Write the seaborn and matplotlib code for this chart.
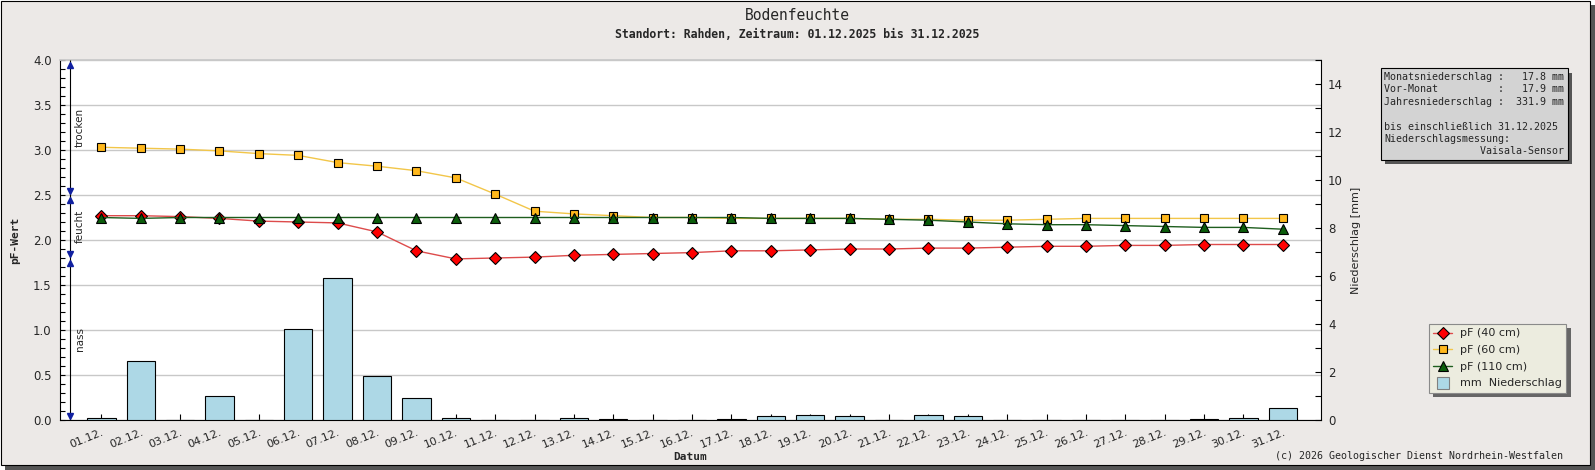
import numpy as np
import pandas as pd
import seaborn as sns
import matplotlib.pyplot as plt
import matplotlib.patheffects as pe
from matplotlib.patches import Rectangle
from matplotlib.lines import Line2D
from matplotlib.ticker import MultipleLocator, FormatStrFormatter

# Daten
datum = ['01.12.', '02.12.', '03.12.', '04.12.', '05.12.', '06.12.', '07.12.', '08.12.',
         '09.12.', '10.12.', '11.12.', '12.12.', '13.12.', '14.12.', '15.12.', '16.12.',
         '17.12.', '18.12.', '19.12.', '20.12.', '21.12.', '22.12.', '23.12.', '24.12.',
         '25.12.', '26.12.', '27.12.', '28.12.', '29.12.', '30.12.', '31.12.']

pf_40 = [2.27, 2.27, 2.26, 2.24, 2.21, 2.20, 2.19, 2.09, 1.88, 1.79, 1.80,
         1.81, 1.83, 1.84, 1.85, 1.86, 1.88, 1.88, 1.89, 1.90, 1.90,
         1.91, 1.91, 1.92, 1.93, 1.93, 1.94, 1.94, 1.95, 1.95, 1.95]

pf_60 = [3.03, 3.02, 3.01, 2.99, 2.96, 2.94, 2.86, 2.82, 2.77, 2.69, 2.51,
         2.32, 2.29, 2.27, 2.25, 2.25, 2.24, 2.24, 2.24, 2.24, 2.23,
         2.23, 2.22, 2.22, 2.23, 2.24, 2.24, 2.24, 2.24, 2.24, 2.24]

pf_110 = [2.25, 2.24, 2.25, 2.25, 2.25, 2.25, 2.25, 2.25, 2.25, 2.25, 2.25,
          2.25, 2.25, 2.25, 2.25, 2.25, 2.25, 2.24, 2.24, 2.24, 2.23,
          2.22, 2.20, 2.18, 2.17, 2.17, 2.16, 2.15, 2.14, 2.14, 2.12]

niederschlag = [0.1, 2.45, 0.0, 1.0, 0.0, 3.8, 5.9, 1.85, 0.9, 0.1,
                0.0, 0.0, 0.1, 0.05, 0.0, 0.0, 0.05, 0.15, 0.2, 0.15,
                0.0, 0.2, 0.15, 0.0, 0.0, 0.0, 0.0, 0.0, 0.05, 0.1, 0.5]

zonen = ['nass', 'feucht', 'trocken']
zonen_grenzen = [0.0, 1.8, 2.5, 4.0]

vor_monat = 17.9
jahresniederschlag = 331.9
bis_datum = '31.12.2025'

sns.set_theme(style='white')
plt.rcParams['font.family'] = ['DejaVu Sans']
MONO = 'DejaVu Sans Mono'

df = pd.DataFrame({'Datum': datum, 'tag': np.arange(len(datum)),
                   'pF40': pf_40, 'pF60': pf_60, 'pF110': pf_110, 'mm': niederschlag})

W, H = 1595, 470
fig = plt.figure(figsize=(W / 100, H / 100), dpi=100, facecolor='white')

# Rahmen mit Schatten
fig.patches.append(Rectangle((5 / W, 0), 1590 / W, 465 / H, transform=fig.transFigure,
                             fc='#555555', ec='none', zorder=-20))
fig.patches.append(Rectangle((0.5 / W, 5.5 / H), 1589 / W, 464 / H, transform=fig.transFigure,
                             fc='#ece9e7', ec='black', lw=0.8, zorder=-10))

ax = fig.add_axes([60 / W, 50 / H, 1261 / W, 360 / H])
ax.set_facecolor('white')
ax_bar = ax.twinx()
ax_lines = ax.twinx()

# Niederschlag als Balken (rechte Achse)
sns.barplot(data=df, x='tag', y='mm', ax=ax_bar, native_scale=True, color='#add8e6',
            saturation=1, edgecolor='black', linewidth=0.8, width=0.72)

# pF-Kurven
sns.lineplot(data=df, x='tag', y='pF60', ax=ax_lines, color='#f2c649', lw=1, marker='s',
             markersize=6, markerfacecolor='#ffb81c', markeredgecolor='black', markeredgewidth=0.8)
sns.lineplot(data=df, x='tag', y='pF40', ax=ax_lines, color='#dd4b4b', lw=1, marker='D',
             markersize=6, markerfacecolor='#ff0000', markeredgecolor='black', markeredgewidth=0.8)
sns.lineplot(data=df, x='tag', y='pF110', ax=ax_lines, color='#1e5e1e', lw=1, marker='^',
             markersize=7, markerfacecolor='#0b5d0b', markeredgecolor='black', markeredgewidth=0.8)

# x-Achse
ax.set_xlim(-1.05, 30.97)
ax.set_xticks(df['tag'], datum, rotation=22, ha='right', rotation_mode='anchor', fontsize=8)
ax.tick_params(axis='x', direction='in', length=4, width=0.8, pad=5, color='black', bottom=True)
ax.set_xlabel('Datum', family=MONO, fontweight='bold', fontsize=8)
ax.xaxis.set_label_coords(0.5, -0.088)

# linke Achse
ax.set_ylim(0, 4)
ax.yaxis.set_major_locator(MultipleLocator(0.5))
ax.yaxis.set_minor_locator(MultipleLocator(0.1))
ax.yaxis.set_major_formatter(FormatStrFormatter('%.1f'))
ax.tick_params(axis='y', which='both', direction='in', length=3.5, width=0.8, labelsize=8.5,
               color='black', left=True, pad=6)
ax.grid(axis='y', which='major', color='#c8c8c8', lw=1)
ax.set_ylabel('pF-Wert', family=MONO, fontweight='bold', fontsize=8)
ax.yaxis.set_label_coords(-0.0317, 0.5)
for s in ['left', 'bottom']:
    ax.spines[s].set_color('black')
    ax.spines[s].set_linewidth(0.8)
ax.spines['top'].set_color('#c8c8c8')
ax.spines['right'].set_visible(False)

# rechte Achse
ax_bar.set_ylim(0, 15)
ax_bar.yaxis.set_major_locator(MultipleLocator(2))
ax_bar.yaxis.set_minor_locator(MultipleLocator(1))
ax_bar.tick_params(axis='y', which='both', direction='in', length=4.5, width=0.8, labelsize=8.5,
                   color='black', right=True, pad=5)
ax_bar.set_ylabel('Niederschlag [mm]', fontsize=8)
ax_bar.yaxis.set_label_coords(1.024, 0.5)
for s in ['top', 'left', 'bottom']:
    ax_bar.spines[s].set_visible(False)
ax_bar.spines['right'].set_color('black')
ax_bar.spines['right'].set_linewidth(0.8)

ax_lines.set_ylim(0, 4)
ax_lines.yaxis.set_visible(False)
for s in ax_lines.spines.values():
    s.set_visible(False)

# Bodenfeuchte-Zonen am linken Rand
x_pfeil = -0.8
ax_lines.vlines(x_pfeil, zonen_grenzen[0], zonen_grenzen[-1], color='black', lw=0.8)
for name, lo, hi in zip(zonen, zonen_grenzen[:-1], zonen_grenzen[1:]):
    ax_lines.plot(x_pfeil, hi - 0.06, marker='^', color='#1020a0', ms=5, clip_on=False)
    ax_lines.plot(x_pfeil, lo + 0.045, marker='v', color='#1020a0', ms=5, clip_on=False)
    ax_lines.text(-0.67, (lo + hi) / 2, name, rotation=90, ha='left', va='center', fontsize=7.5)

# Titel
fig.text(0.5, 1 - 15 / H, 'Bodenfeuchte', family=MONO, fontsize=10.5, ha='center', va='center')
fig.text(0.5, 1 - 34 / H, 'Standort: Rahden, Zeitraum: 01.12.2025 bis 31.12.2025',
         family=MONO, fontsize=8.3, fontweight='bold', ha='center', va='center')

# Info-Box
monat = sum(niederschlag)
info = '\n'.join([
    f'Monatsniederschlag : {monat:6.1f} mm',
    f'Vor-Monat          : {vor_monat:6.1f} mm',
    f'Jahresniederschlag : {jahresniederschlag:6.1f} mm',
    '',
    f'bis einschließlich {bis_datum}',
    'Niederschlagsmessung:',
    f"{'Vaisala-Sensor':>30}",
])
t = fig.text(1384 / W, 1 - 72 / H, info, family=MONO, fontsize=7.2, ha='left', va='top',
             linespacing=1.3,
             bbox=dict(boxstyle='square,pad=0.35', fc='#d3d3d3', ec='black', lw=0.8))
t.get_bbox_patch().set_path_effects([pe.SimplePatchShadow(offset=(3, -3), shadow_rgbFace='#555555', alpha=1),
                                     pe.Normal()])

# Legende
handles = [
    Line2D([], [], color='#dd4b4b', lw=1, marker='D', ms=6, mfc='#ff0000', mec='black', mew=0.8),
    Line2D([], [], color='#f2c649', lw=1, marker='s', ms=6, mfc='#ffb81c', mec='black', mew=0.8),
    Line2D([], [], color='#1e5e1e', lw=1, marker='^', ms=7, mfc='#0b5d0b', mec='black', mew=0.8),
    Line2D([], [], ls='none', marker='s', ms=9, mfc='#add8e6', mec='#808080', mew=0.8),
]
labels = ['pF (40 cm)', 'pF (60 cm)', 'pF (110 cm)', 'mm  Niederschlag']
leg = fig.legend(handles, labels, loc='upper left', bbox_to_anchor=(1429 / W, 1 - 324 / H),
                 bbox_transform=fig.transFigure, fontsize=8, frameon=True, fancybox=False,
                 framealpha=1, borderpad=0.4, handlelength=1.7, handletextpad=0.7,
                 labelspacing=0.6, borderaxespad=0)
frame = leg.get_frame()
frame.set_facecolor('#ececdf')
frame.set_edgecolor('#8a8a8a')
frame.set_linewidth(0.8)
frame.set_path_effects([pe.SimplePatchShadow(offset=(3, -3), shadow_rgbFace='#666666', alpha=1),
                        pe.Normal()])

fig.text(1563 / W, 1 - 456 / H, '(c) 2026 Geologischer Dienst Nordrhein-Westfalen',
         family=MONO, fontsize=7.2, ha='right', va='center')

fig.savefig('out.png', dpi=100)
